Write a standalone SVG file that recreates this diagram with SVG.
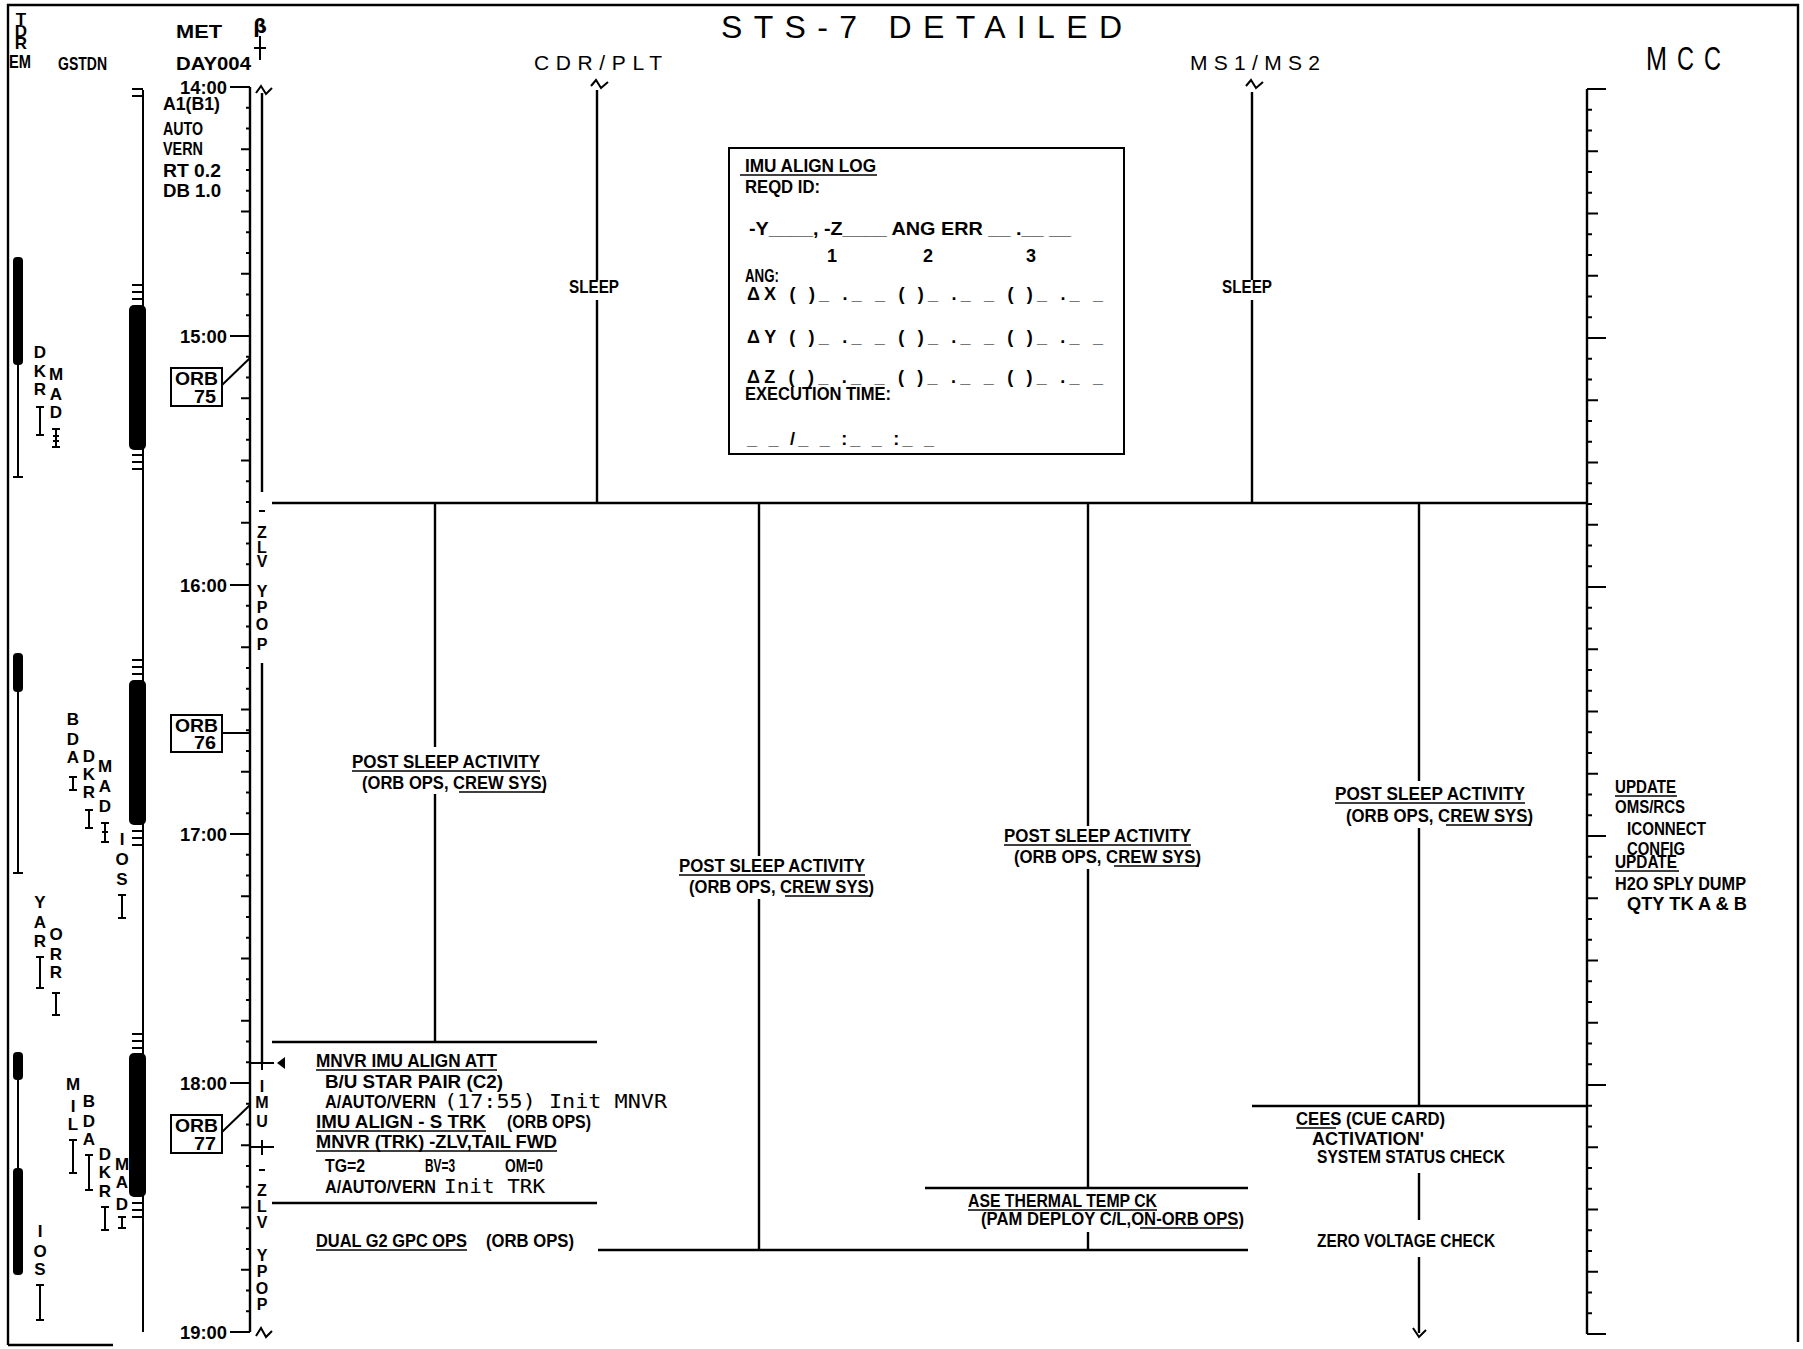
<svg xmlns="http://www.w3.org/2000/svg" xmlns:xlink="http://www.w3.org/1999/xlink" width="1803" height="1349" viewBox="0 0 1803 1349">
<style>
  text { fill:#000; }
  .b { font-family:"Liberation Sans", Arial, sans-serif; font-weight:700; font-size:18px; }
  .hd { font-family:"Liberation Sans", Arial, sans-serif; font-weight:400; }
  .mn { font-family:"DejaVu Sans Mono", "Liberation Mono", monospace; font-weight:400; font-size:20px; }
  .st { font-family:"Liberation Sans", Arial, sans-serif; font-weight:700; font-size:17px; text-anchor:middle; }
  .at { font-family:"Liberation Sans", Arial, sans-serif; font-weight:700; font-size:16px; text-anchor:middle; }
  .ln { stroke:#000; stroke-width:2.4; fill:none; }
  .tk { stroke:#000; stroke-width:2; fill:none; }
  .ul { stroke:#000; stroke-width:1.6; fill:none; }
  .bar { fill:#000; }
</style>
<defs>
  <path id="tkL" class="tk" d="M230 0H250M246 20.75H250M246 41.5H250M241 62.25H250M246 83H250M246 103.75H250M241 124.5H250M246 145.25H250M246 166H250M241 186.75H250M246 207.5H250M246 228.25H250"/>
  <path id="tkR" class="tk" d="M1587 0H1606M1587 20.75H1592M1587 41.5H1592M1587 62.25H1598M1587 83H1592M1587 103.75H1592M1587 124.5H1598M1587 145.25H1592M1587 166H1592M1587 186.75H1598M1587 207.5H1592M1587 228.25H1592"/>
</defs>
<rect width="1803" height="1349" fill="#fff"/>

<g id="frame">
  <path class="ln" d="M8 1345V5H1798V1342M8 1345H113"/>
</g>

<g id="header">
  <text class="hd" x="721" y="38" font-size="32" textLength="401" lengthAdjust="spacing">STS-7 DETAILED</text>
  <text class="hd" x="534" y="70" font-size="21" textLength="128" lengthAdjust="spacing">CDR/PLT</text>
  <text class="hd" x="1190" y="70" font-size="21" textLength="130" lengthAdjust="spacing">MS1/MS2</text>
  <text class="hd" font-size="34" y="70"><tspan x="1646" textLength="21" lengthAdjust="spacingAndGlyphs">M</tspan><tspan x="1677" textLength="17" lengthAdjust="spacingAndGlyphs">C</tspan><tspan x="1704" textLength="17" lengthAdjust="spacingAndGlyphs">C</tspan></text>
  <text class="b" x="176" y="38" font-size="20" textLength="46" lengthAdjust="spacingAndGlyphs">MET</text>
  <text class="b" x="176" y="70" font-size="19" textLength="75" lengthAdjust="spacingAndGlyphs">DAY004</text>
  <text class="b" x="58" y="70" font-size="18" textLength="49" lengthAdjust="spacingAndGlyphs">GSTDN</text>
  <text class="st" x="21" y="25" font-size="9">T</text>
  <text class="st" x="21" y="37" font-size="9">D</text>
  <text class="st" x="21" y="49" font-size="9">R</text>
  <text class="b" x="9" y="68" font-size="13" textLength="22" lengthAdjust="spacingAndGlyphs">EM</text>
  <text x="260" y="33" font-family="DejaVu Sans, sans-serif" font-weight="700" font-size="19" text-anchor="middle">β</text>
  <path class="tk" d="M260 36V60M254 48H266"/>
</g>

<g id="ground-stations">
  <path class="tk" d="M143 90V1332M132 89H143M132 96H143"/>
  <rect class="bar" x="129" y="305" width="17" height="145" rx="5"/>
  <rect class="bar" x="129" y="680" width="17" height="145" rx="5"/>
  <rect class="bar" x="129" y="1053" width="17" height="144" rx="5"/>
  <path class="tk" d="M132 285H143M132 292H143M132 299H143M132 455H143M132 462H143M132 469H143M132 660H143M132 667H143M132 674H143M132 831H143M132 838H143M132 845H143M132 1034H143M132 1041H143M132 1048H143M132 1203H143M132 1210H143M132 1217H143"/>
  <rect class="bar" x="13" y="257" width="10" height="108" rx="4"/>
  <rect class="bar" x="13" y="653" width="10" height="39" rx="4"/>
  <rect class="bar" x="13" y="1052" width="10" height="28" rx="4"/>
  <rect class="bar" x="13" y="1168" width="10" height="107" rx="4"/>
  <path class="tk" d="M18 365V477M13 477H23M18 692V873M13 873H23M18 1080V1168"/>
  <text class="st" x="40" y="358">D<tspan x="40" y="377">K</tspan><tspan x="40" y="395">R</tspan></text>
  <text class="st" x="56" y="380">M<tspan x="56" y="400">A</tspan><tspan x="56" y="418">D</tspan></text>
  <text class="st" x="73" y="725">B<tspan x="73" y="745">D</tspan><tspan x="73" y="763">A</tspan></text>
  <text class="st" x="89" y="762">D<tspan x="89" y="780">K</tspan><tspan x="89" y="798">R</tspan></text>
  <text class="st" x="105" y="772">M<tspan x="105" y="792">A</tspan><tspan x="105" y="812">D</tspan></text>
  <text class="st" x="122" y="845">I<tspan x="122" y="865">O</tspan><tspan x="122" y="885">S</tspan></text>
  <text class="st" x="40" y="908">Y<tspan x="40" y="928">A</tspan><tspan x="40" y="947">R</tspan></text>
  <text class="st" x="56" y="940">O<tspan x="56" y="960">R</tspan><tspan x="56" y="978">R</tspan></text>
  <text class="st" x="73" y="1090">M<tspan x="73" y="1112">I</tspan><tspan x="73" y="1130">L</tspan></text>
  <text class="st" x="89" y="1107">B<tspan x="89" y="1127">D</tspan><tspan x="89" y="1145">A</tspan></text>
  <text class="st" x="105" y="1160">D<tspan x="105" y="1178">K</tspan><tspan x="105" y="1197">R</tspan></text>
  <text class="st" x="122" y="1170">M<tspan x="122" y="1188">A</tspan><tspan x="122" y="1210">D</tspan></text>
  <text class="st" x="40" y="1237">I<tspan x="40" y="1257">O</tspan><tspan x="40" y="1275">S</tspan></text>
  <path class="tk" d="M36 407H44M40 407V435M36 435H44
    M52 429H60M56 429V447M52 447H60M53 436H59M53 441H59
    M69 777H77M73 777V790M69 790H77
    M85 810H93M89 810V828M85 828H93
    M101 823H109M105 823V842M101 842H109M102 832H108
    M118 895H126M122 895V918M118 918H126
    M36 957H44M40 957V988M36 988H44
    M52 993H60M56 993V1015M52 1015H60
    M69 1140H77M73 1140V1173M69 1173H77
    M85 1155H93M89 1155V1190M85 1190H93
    M101 1207H109M105 1207V1230M101 1230H109
    M118 1217H126M122 1217V1228M118 1228H126
    M36 1285H44M40 1285V1320M36 1320H44"/>
</g>

<g id="met-scale">
  <path class="ln" d="M250 87V1332"/>
  <use xlink:href="#tkL" y="87"/>
  <use xlink:href="#tkL" y="336"/>
  <use xlink:href="#tkL" y="585"/>
  <use xlink:href="#tkL" y="834"/>
  <use xlink:href="#tkL" y="1083"/>
  <path class="tk" d="M230 1332H250"/>
  <text class="b" x="180" y="94" font-size="19" textLength="47" lengthAdjust="spacingAndGlyphs">14:00</text>
  <text class="b" x="180" y="343" font-size="19" textLength="47" lengthAdjust="spacingAndGlyphs">15:00</text>
  <text class="b" x="180" y="592" font-size="19" textLength="47" lengthAdjust="spacingAndGlyphs">16:00</text>
  <text class="b" x="180" y="841" font-size="19" textLength="47" lengthAdjust="spacingAndGlyphs">17:00</text>
  <text class="b" x="180" y="1090" font-size="19" textLength="47" lengthAdjust="spacingAndGlyphs">18:00</text>
  <text class="b" x="180" y="1339" font-size="19" textLength="47" lengthAdjust="spacingAndGlyphs">19:00</text>
  <text class="b" x="163" y="110" font-size="19" textLength="57" lengthAdjust="spacingAndGlyphs">A1(B1)</text>
  <text class="b" x="163" y="135" font-size="19" textLength="40" lengthAdjust="spacingAndGlyphs">AUTO</text>
  <text class="b" x="163" y="155" font-size="19" textLength="40" lengthAdjust="spacingAndGlyphs">VERN</text>
  <text class="b" x="163" y="177" font-size="19" textLength="58" lengthAdjust="spacingAndGlyphs">RT 0.2</text>
  <text class="b" x="163" y="197" font-size="19" textLength="58" lengthAdjust="spacingAndGlyphs">DB 1.0</text>
</g>

<g id="orb-75">
  <rect class="tk" x="171" y="368" width="51" height="38"/>
  <text class="b" x="175" y="385" font-size="18" textLength="43" lengthAdjust="spacingAndGlyphs">ORB</text>
  <text class="b" x="194" y="403" font-size="18" textLength="22" lengthAdjust="spacingAndGlyphs">75</text>
  <path class="tk" d="M222 385L250 358"/>
</g>
<g id="orb-76">
  <rect class="tk" x="171" y="715" width="51" height="37"/>
  <text class="b" x="175" y="732" font-size="18" textLength="43" lengthAdjust="spacingAndGlyphs">ORB</text>
  <text class="b" x="194" y="749" font-size="18" textLength="22" lengthAdjust="spacingAndGlyphs">76</text>
  <path class="tk" d="M222 733H250"/>
</g>
<g id="orb-77">
  <rect class="tk" x="171" y="1115" width="51" height="38"/>
  <text class="b" x="175" y="1132" font-size="18" textLength="43" lengthAdjust="spacingAndGlyphs">ORB</text>
  <text class="b" x="194" y="1150" font-size="18" textLength="22" lengthAdjust="spacingAndGlyphs">77</text>
  <path class="tk" d="M222 1132L250 1105"/>
</g>

<g id="attitude">
  <path class="ln" d="M262 93V492M262 663V1063"/>
  <path class="tk" d="M256 93L261 86L266 94L272 88"/>
  <path class="tk" d="M251 1063H274M262 1056V1070M251 1147H274M262 1140V1155M259 511H265M259 1170H265"/>
  <polygon points="277,1063 285,1057 285,1069" fill="#000"/>
  <path class="tk" d="M256 1336L261 1328L266 1337L272 1331"/>
  <text class="at" x="262" y="538">Z<tspan x="262" y="553">L</tspan><tspan x="262" y="567">V</tspan><tspan x="262" y="597">Y</tspan><tspan x="262" y="613">P</tspan><tspan x="262" y="630">O</tspan><tspan x="262" y="650">P</tspan></text>
  <text class="at" x="262" y="1092">I<tspan x="262" y="1108">M</tspan><tspan x="262" y="1127">U</tspan></text>
  <text class="at" x="262" y="1196">Z<tspan x="262" y="1212">L</tspan><tspan x="262" y="1228">V</tspan><tspan x="262" y="1261">Y</tspan><tspan x="262" y="1277">P</tspan><tspan x="262" y="1294">O</tspan><tspan x="262" y="1310">P</tspan></text>
</g>

<g id="mcc-scale">
  <path class="ln" d="M1587 89V1334"/>
  <use xlink:href="#tkR" y="89"/>
  <use xlink:href="#tkR" y="338"/>
  <use xlink:href="#tkR" y="587"/>
  <use xlink:href="#tkR" y="836"/>
  <use xlink:href="#tkR" y="1085"/>
  <path class="tk" d="M1587 1334H1606"/>
</g>

<g id="connectors">
  <path class="tk" d="M591 86L596 80L601 88L608 82M1246 86L1251 80L1256 88L1263 82"/>
  <path class="ln" d="M597 90V280M597 300V503M1252 92V280M1252 300V503
    M272 503H1587
    M435 503V747M435 794V1042
    M272 1042H597M272 1203H597
    M759 503V856M759 899V1250
    M598 1250H1248
    M1088 503V826M1088 869V1188M1088 1232V1250
    M925 1188H1248
    M1419 503V781M1419 828V1106M1419 1173V1220M1419 1257V1333
    M1252 1106H1587"/>
  <path class="tk" d="M1413 1328L1419 1337L1426 1330"/>
</g>

<g id="cdr-sleep"><text class="b" x="569" y="293" textLength="50" lengthAdjust="spacingAndGlyphs">SLEEP</text></g>
<g id="ms-sleep"><text class="b" x="1222" y="293" textLength="50" lengthAdjust="spacingAndGlyphs">SLEEP</text></g>

<g id="imu-align-log">
  <rect class="tk" x="729" y="148" width="395" height="306"/>
  <text class="b" x="745" y="172" textLength="131" lengthAdjust="spacingAndGlyphs">IMU ALIGN LOG</text>
  <path class="ul" d="M740 175H877"/>
  <text class="b" x="745" y="193" textLength="75" lengthAdjust="spacingAndGlyphs">REQD ID:</text>
  <text class="b" x="749" y="235" textLength="322" lengthAdjust="spacingAndGlyphs">-Y____, -Z____ ANG ERR __ .__ __</text>
  <text class="b" x="827" y="262">1</text>
  <text class="b" x="923" y="262">2</text>
  <text class="b" x="1026" y="262">3</text>
  <text class="b" x="745" y="282" textLength="34" lengthAdjust="spacingAndGlyphs">ANG:</text>
  <text class="b" x="747" y="300" textLength="356" lengthAdjust="spacing">ΔX (  )_ ._ _ (  )_ ._ _ (  )_ ._ _</text>
  <text class="b" x="747" y="343" textLength="356" lengthAdjust="spacing">ΔY (  )_ ._ _ (  )_ ._ _ (  )_ ._ _</text>
  <text class="b" x="747" y="383" textLength="356" lengthAdjust="spacing">ΔZ (  )_ ._ _ (  )_ ._ _ (  )_ ._ _</text>
  <text class="b" x="745" y="400" textLength="146" lengthAdjust="spacingAndGlyphs">EXECUTION TIME:</text>
  <text class="b" x="747" y="445" textLength="187" lengthAdjust="spacing">_ _ /_ _ :_ _ :_ _</text>
</g>

<g id="cdr-post-sleep">
  <text class="b" x="352" y="768" textLength="188" lengthAdjust="spacingAndGlyphs">POST SLEEP ACTIVITY</text>
  <text class="b" x="362" y="789" textLength="185" lengthAdjust="spacingAndGlyphs">(ORB OPS, CREW SYS)</text>
  <path class="ul" d="M352 771H540M459 792H545"/>
</g>
<g id="plt-post-sleep">
  <text class="b" x="679" y="872" textLength="186" lengthAdjust="spacingAndGlyphs">POST SLEEP ACTIVITY</text>
  <text class="b" x="689" y="893" textLength="185" lengthAdjust="spacingAndGlyphs">(ORB OPS, CREW SYS)</text>
  <path class="ul" d="M679 875H865M785 896H871"/>
</g>
<g id="ms1-post-sleep">
  <text class="b" x="1004" y="842" textLength="187" lengthAdjust="spacingAndGlyphs">POST SLEEP ACTIVITY</text>
  <text class="b" x="1014" y="863" textLength="187" lengthAdjust="spacingAndGlyphs">(ORB OPS, CREW SYS)</text>
  <path class="ul" d="M1004 845H1191M1114 866H1199"/>
</g>
<g id="ms2-post-sleep">
  <text class="b" x="1335" y="800" textLength="190" lengthAdjust="spacingAndGlyphs">POST SLEEP ACTIVITY</text>
  <text class="b" x="1346" y="822" textLength="187" lengthAdjust="spacingAndGlyphs">(ORB OPS, CREW SYS)</text>
  <path class="ul" d="M1335 803H1525M1446 825H1531"/>
</g>

<g id="mcc-updates">
  <text class="b" x="1615" y="793" textLength="61" lengthAdjust="spacingAndGlyphs">UPDATE</text>
  <text class="b" x="1615" y="813" textLength="70" lengthAdjust="spacingAndGlyphs">OMS/RCS</text>
  <text class="b" x="1627" y="835" textLength="79" lengthAdjust="spacingAndGlyphs">ICONNECT</text>
  <text class="b" x="1627" y="855" textLength="58" lengthAdjust="spacingAndGlyphs">CONFIG</text>
  <text class="b" x="1615" y="868" textLength="62" lengthAdjust="spacingAndGlyphs">UPDATE</text>
  <text class="b" x="1615" y="890" textLength="131" lengthAdjust="spacingAndGlyphs">H2O SPLY DUMP</text>
  <text class="b" x="1627" y="910" textLength="120" lengthAdjust="spacingAndGlyphs">QTY TK A &amp; B</text>
  <path class="ul" d="M1615 796H1677M1615 871H1679"/>
</g>

<g id="cdr-mnvr">
  <text class="b" x="316" y="1067" textLength="181" lengthAdjust="spacingAndGlyphs">MNVR IMU ALIGN ATT</text>
  <text class="b" x="325" y="1088" textLength="178" lengthAdjust="spacingAndGlyphs">B/U STAR PAIR (C2)</text>
  <text class="b" x="325" y="1108" textLength="111" lengthAdjust="spacingAndGlyphs">A/AUTO/VERN</text>
  <text class="mn" x="444" y="1108" textLength="223" lengthAdjust="spacingAndGlyphs">(17:55) Init MNVR</text>
  <text class="b" x="316" y="1128" textLength="170" lengthAdjust="spacingAndGlyphs">IMU ALIGN - S TRK</text>
  <text class="b" x="507" y="1128" textLength="84" lengthAdjust="spacingAndGlyphs">(ORB OPS)</text>
  <text class="b" x="316" y="1148" textLength="241" lengthAdjust="spacingAndGlyphs">MNVR (TRK) -ZLV,TAIL FWD</text>
  <text class="b" x="325" y="1172" textLength="40" lengthAdjust="spacingAndGlyphs">TG=2</text>
  <text class="b" x="425" y="1172" textLength="30" lengthAdjust="spacingAndGlyphs">BV=3</text>
  <text class="b" x="505" y="1172" textLength="38" lengthAdjust="spacingAndGlyphs">OM=0</text>
  <text class="b" x="325" y="1193" textLength="111" lengthAdjust="spacingAndGlyphs">A/AUTO/VERN</text>
  <text class="mn" x="444" y="1193" textLength="101" lengthAdjust="spacingAndGlyphs">Init TRK</text>
  <path class="ul" d="M316 1070H497M316 1131H486M316 1151H557"/>
</g>
<g id="cdr-dual-gpc">
  <text class="b" x="316" y="1247" textLength="151" lengthAdjust="spacingAndGlyphs">DUAL G2 GPC OPS</text>
  <text class="b" x="486" y="1247" textLength="88" lengthAdjust="spacingAndGlyphs">(ORB OPS)</text>
  <path class="ul" d="M316 1250H467"/>
</g>

<g id="ase-thermal">
  <text class="b" x="968" y="1207" textLength="189" lengthAdjust="spacingAndGlyphs">ASE THERMAL TEMP CK</text>
  <text class="b" x="981" y="1225" textLength="263" lengthAdjust="spacingAndGlyphs">(PAM DEPLOY C/L,ON-ORB OPS)</text>
  <path class="ul" d="M968 1210H1157M1140 1228H1238"/>
</g>

<g id="cees">
  <text class="b" x="1296" y="1125" textLength="149" lengthAdjust="spacingAndGlyphs">CEES (CUE CARD)</text>
  <text class="b" x="1312" y="1145" textLength="112" lengthAdjust="spacingAndGlyphs">ACTIVATION'</text>
  <text class="b" x="1317" y="1163" textLength="188" lengthAdjust="spacingAndGlyphs">SYSTEM STATUS CHECK</text>
  <path class="ul" d="M1296 1128H1336"/>
</g>
<g id="zero-voltage">
  <text class="b" x="1317" y="1247" textLength="178" lengthAdjust="spacingAndGlyphs">ZERO VOLTAGE CHECK</text>
</g>
</svg>
